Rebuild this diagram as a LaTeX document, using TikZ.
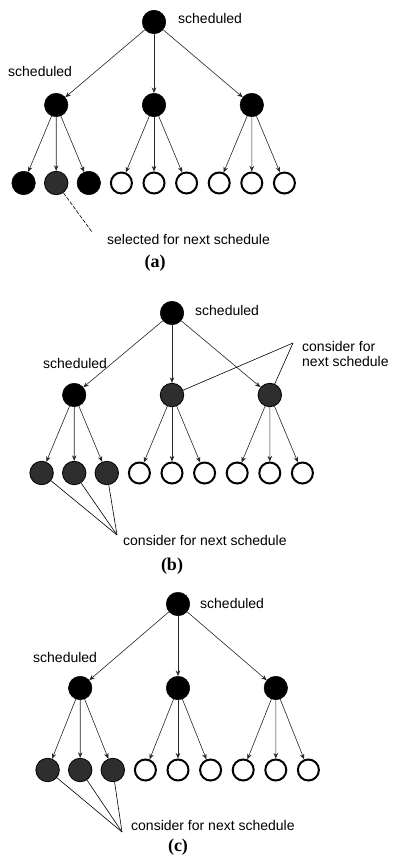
\documentclass[tikz,border=0pt]{standalone}
\usepackage{fontspec}
\setmainfont{Liberation Sans}
\newfontfamily\capfont{Liberation Serif}
\usetikzlibrary{arrows.meta}
\begin{document}
\begin{tikzpicture}[x=1pt,y=-1pt,
  fullnode/.style={circle,draw=black,fill=black,line width=0.5pt,minimum size=23.5pt,inner sep=0pt},
  grynode/.style={circle,draw=black,fill=black!82,line width=0.8pt,minimum size=23.5pt,inner sep=0pt},
  opennode/.style={circle,draw=black,fill=white,line width=2pt,minimum size=21pt,inner sep=0pt},
  arr/.style={-{Stealth[length=5.5pt,width=4.5pt]},line width=0.6pt,black!85},
  ann/.style={line width=0.6pt},
  lab/.style={font=\fontsize{14}{15}\selectfont,inner sep=0pt,anchor=west},
  captext/.style={font=\capfont\bfseries\fontsize{18}{18}\selectfont,inner sep=0pt}]
\fill[white] (0,0) rectangle (392,859);
\useasboundingbox (0,0) rectangle (392,859);

% ---------- panel (a) ----------
\node[fullnode] (ar) at (154,22) {};
\foreach \j/\s in {1/fullnode,2/fullnode,3/fullnode}
  \node[\s] (am\j) at ({154+(\j-2)*97.8},105) {};
\foreach \i/\s in {1/fullnode,2/grynode,3/fullnode,4/opennode,5/opennode,6/opennode,7/opennode,8/opennode,9/opennode}
  \node[\s] (al\i) at ({154+(\i-5)*32.6},183) {};
\foreach \j in {1,2,3} {
  \draw[arr] (ar) -- (am\j);
  \foreach \k in {1,2,3} {
    \pgfmathtruncatemacro\i{(\j-1)*3+\k}
    \draw[arr] (am\j) -- (al\i);
  }
}
\node[lab] (as1) at (178,18) {scheduled};
\node[lab] (as2) at (8,71) {scheduled};
\node[lab] (asel) at (107,239) {selected for next schedule};
\coordinate (aend) at (92,232);
\draw[ann,dash pattern=on 4pt off 1.5pt] (al2) -- (aend);
\node[captext] (acap) at (155,263) {(a)};

% ---------- panel (b) ----------
\node[fullnode] (br) at (172,313) {};
\foreach \j/\s in {1/fullnode,2/grynode,3/grynode}
  \node[\s] (bm\j) at ({172+(\j-2)*97.8},395) {};
\foreach \i/\s in {1/grynode,2/grynode,3/grynode,4/opennode,5/opennode,6/opennode,7/opennode,8/opennode,9/opennode}
  \node[\s] (bl\i) at ({172+(\i-5)*32.6},473) {};
\foreach \j in {1,2,3} {
  \draw[arr] (br) -- (bm\j);
  \foreach \k in {1,2,3} {
    \pgfmathtruncatemacro\i{(\j-1)*3+\k}
    \draw[arr] (bm\j) -- (bl\i);
  }
}
\node[lab] (bs1) at (195,310) {scheduled};
\node[lab] (bs2) at (43,363) {scheduled};
\node[lab,align=left] (bcon) at (302,353.5) {consider for\\next schedule};
\coordinate (bcp) at (293,343);
\draw[ann] (bcp) -- (bm2);
\draw[ann] (bcp) -- (bm3);
\node[lab] (bcon2) at (123,540) {consider for next schedule};
\coordinate (bcq) at (117,535);
\foreach \i in {1,2,3} \draw[ann] (bl\i) -- (bcq);
\node[captext] (bcap) at (172,566) {(b)};

% ---------- panel (c) ----------
\node[fullnode] (cr) at (178,604) {};
\foreach \j/\s in {1/fullnode,2/fullnode,3/fullnode}
  \node[\s] (cm\j) at ({178+(\j-2)*97.8},688) {};
\foreach \i/\s in {1/grynode,2/grynode,3/grynode,4/opennode,5/opennode,6/opennode,7/opennode,8/opennode,9/opennode}
  \node[\s] (cl\i) at ({178+(\i-5)*32.6},770) {};
\foreach \j in {1,2,3} {
  \draw[arr] (cr) -- (cm\j);
  \foreach \k in {1,2,3} {
    \pgfmathtruncatemacro\i{(\j-1)*3+\k}
    \draw[arr] (cm\j) -- (cl\i);
  }
}
\node[lab] (cs1) at (200,603) {scheduled};
\node[lab] (cs2) at (33,657) {scheduled};
\node[lab] (ccon) at (131,825) {consider for next schedule};
\coordinate (ccq) at (122,832);
\foreach \i in {1,2,3} \draw[ann] (cl\i) -- (ccq);
\node[captext] (ccap) at (178,847) {(c)};
\end{tikzpicture}
\end{document}
